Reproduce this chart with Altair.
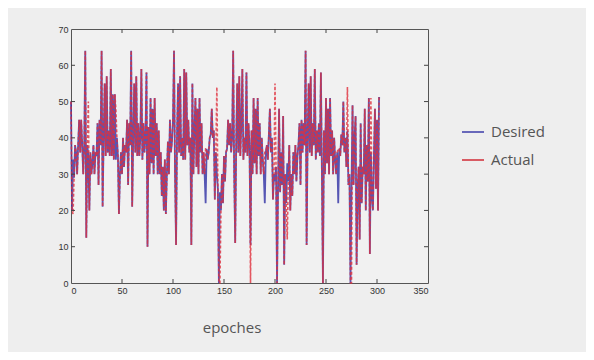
import altair as alt
import pandas as pd

desired = [
    50, 20, 34, 29, 38, 36, 30, 38, 45, 36,
    45, 38, 30, 38, 64, 12.5, 38, 35, 20, 36,
    30, 33, 38, 30, 36, 35, 44, 27, 45, 38,
    64, 21, 40, 55, 35, 57, 36, 42, 35, 59,
    35, 52, 34, 52, 34, 40, 35, 19, 30, 36,
    30, 40, 32, 38, 36, 45, 27, 44, 38, 64,
    21, 40, 55, 36, 57, 35, 44, 35, 40, 59,
    34, 44, 36, 40, 58, 10, 43, 30, 51, 33,
    48, 30, 51, 35, 44, 30, 42, 30, 36, 24,
    32, 20, 34, 19, 30, 39, 30, 45, 36, 39,
    45, 64, 30, 10.5, 42, 55, 36, 57, 35, 40,
    34, 59, 34, 58, 38, 45, 36, 40, 10.5, 55,
    30, 42, 51, 32, 48, 30, 51, 36, 44, 30,
    36, 30, 22, 37, 34, 36, 40, 41, 48, 40,
    42, 23, 36, 30, 26, 0, 25, 20, 30, 22,
    35, 28, 36, 37, 45, 38, 44, 36, 40, 64,
    30, 11, 40, 55, 36, 57, 35, 44, 59, 34,
    40, 36, 58, 35, 44, 38, 10.5, 42, 30, 51,
    33, 48, 30, 51, 35, 44, 30, 40, 34, 30,
    22, 36, 38, 34, 41, 48, 36, 40, 23, 30,
    28, 32, 0, 26, 48, 25, 36, 27, 46, 5,
    30, 22, 33, 28, 38, 20, 30, 24, 36, 30,
    38, 28, 35, 38, 44, 27, 45, 36, 44, 38,
    64, 10.5, 40, 55, 36, 57, 35, 44, 38, 59,
    34, 42, 36, 44, 35, 58, 30, 0, 42, 30,
    51, 33, 48, 30, 51, 35, 42, 30, 40, 34,
    30, 36, 22, 37, 35, 41, 38, 50, 36, 40,
    32, 42, 27, 30, 0, 26, 49, 27, 40, 46,
    5, 26, 32, 12, 44, 22, 32, 30, 48, 20,
    38, 28, 51, 8, 36, 24, 20, 35, 48, 26,
    45, 20, 51, 51,
]

actual = list(desired)
actual_changes = {2: 19, 17: 50, 44: 48, 132: 37, 143: 54, 146: 0, 176: 0,
                  190: 36, 200: 55, 212: 12, 262: 37, 271: 54, 275: 0, 294: 51}
for k, v in actual_changes.items():
    actual[k] = v

epochs = list(range(len(desired)))
x_ticks = [0, 50, 100, 150, 200, 250, 300, 350]
y_ticks = [0, 10, 20, 30, 40, 50, 60, 70]

df = pd.DataFrame({"epoch": epochs, "desired": desired, "actual": actual})

W, H = 357, 254
xs = alt.Scale(domain=[0, 350], nice=False)
ys = alt.Scale(domain=[0, 70], nice=False)

axis_common = dict(grid=False, tickSize=0, domain=False, labelFontSize=9,
                   labelColor="#333333", labelFont="Liberation Sans", labelPadding=3,
                   labelOverlap=False, title=None)
x_axis = alt.Axis(values=x_ticks, **axis_common)
y_axis = alt.Axis(values=y_ticks, **axis_common)

base = alt.Chart(df)

des_line = base.mark_line(color="#3b3ba8", strokeWidth=1.8, opacity=0.85).encode(
    x=alt.X("epoch:Q", scale=xs, axis=x_axis),
    y=alt.Y("desired:Q", scale=ys, axis=y_axis),
)
act_line = base.mark_line(color="#e0303c", strokeWidth=1.6, strokeDash=[3, 2], opacity=0.8).encode(
    x=alt.X("epoch:Q", scale=xs, axis=x_axis),
    y=alt.Y("actual:Q", scale=ys, axis=y_axis),
)

xt = pd.DataFrame({"t": x_ticks[1:-1]})
yt = pd.DataFrame({"t": y_ticks[1:-1]})
tick_style = dict(color="#444444", strokeWidth=1)
xtick_b = alt.Chart(xt).mark_rule(**tick_style).encode(x=alt.X("t:Q", scale=xs, axis=x_axis), y=alt.value(H), y2=alt.value(H - 4))
xtick_t = alt.Chart(xt).mark_rule(**tick_style).encode(x=alt.X("t:Q", scale=xs, axis=x_axis), y=alt.value(0), y2=alt.value(4))
ytick_l = alt.Chart(yt).mark_rule(**tick_style).encode(y=alt.Y("t:Q", scale=ys, axis=y_axis), x=alt.value(0), x2=alt.value(4))
ytick_r = alt.Chart(yt).mark_rule(**tick_style).encode(y=alt.Y("t:Q", scale=ys, axis=y_axis), x=alt.value(W), x2=alt.value(W - 4))

leg = pd.DataFrame({"name": ["Desired", "Actual"], "color": ["#3b3ba8", "#d02a34"], "py": [103, 131]})
leg_lines = alt.Chart(leg).mark_rule(strokeWidth=1.5).encode(
    x=alt.value(391), x2=alt.value(413), y=alt.Y("py:Q", scale=None),
    color=alt.Color("color:N", scale=None),
)
leg_text = alt.Chart(leg).mark_text(align="left", baseline="middle", fontSize=15,
                                     font="Open Sans", color="#555555").encode(
    x=alt.value(420), y=alt.Y("py:Q", scale=None), text="name:N",
)
xlabel = alt.Chart(pd.DataFrame({"t": ["epoches"]})).mark_text(
    align="center", baseline="middle", fontSize=15, font="Open Sans", color="#555555"
).encode(x=alt.value(161), y=alt.value(299), text="t:N")

chart = alt.layer(
    des_line, act_line, xtick_b, xtick_t, ytick_l, ytick_r, leg_lines, leg_text, xlabel
).properties(
    width=W, height=H,
    padding={"left": 63, "top": 21, "right": 158, "bottom": 69},
    autosize=alt.AutoSizeParams(type="none"),
    background="#eeeeee",
).configure_view(
    stroke="#555555", strokeWidth=1, fill="#f1f1f1"
)

chart.save("out.html", embed_options={"renderer": "svg", "actions": False})
